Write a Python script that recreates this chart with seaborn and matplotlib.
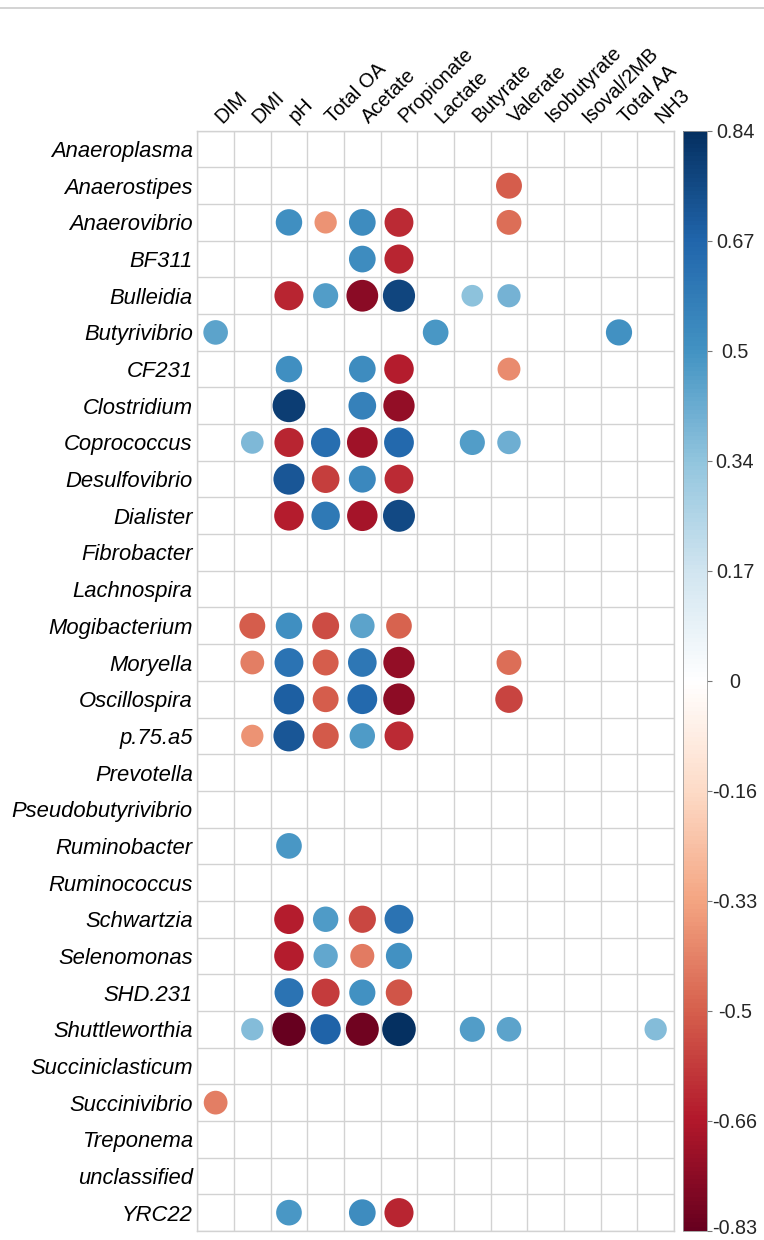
import numpy as np
import pandas as pd
import matplotlib
matplotlib.use("Agg")
import matplotlib.pyplot as plt
from matplotlib.colors import LinearSegmentedColormap, Normalize
from matplotlib.cm import ScalarMappable
from matplotlib.lines import Line2D
from matplotlib.transforms import ScaledTranslation
import seaborn as sns

# Rumen variables (columns) and bacterial genera (rows)
variables = ["DIM", "DMI", "pH", "Total OA", "Acetate", "Propionate", "Lactate",
             "Butyrate", "Valerate", "Isobutyrate", "Isoval/2MB", "Total AA", "NH3"]
genera = ["Anaeroplasma", "Anaerostipes", "Anaerovibrio", "BF311", "Bulleidia",
          "Butyrivibrio", "CF231", "Clostridium", "Coprococcus", "Desulfovibrio",
          "Dialister", "Fibrobacter", "Lachnospira", "Mogibacterium", "Moryella",
          "Oscillospira", "p.75.a5", "Prevotella", "Pseudobutyrivibrio",
          "Ruminobacter", "Ruminococcus", "Schwartzia", "Selenomonas", "SHD.231",
          "Shuttleworthia", "Succiniclasticum", "Succinivibrio", "Treponema",
          "unclassified", "YRC22"]

# Significant correlations only (blank cells are non-significant)
cell_genus = (
    ["Anaerostipes"]
    + ["Anaerovibrio"] * 5
    + ["BF311"] * 2
    + ["Bulleidia"] * 6
    + ["Butyrivibrio"] * 3
    + ["CF231"] * 4
    + ["Clostridium"] * 3
    + ["Coprococcus"] * 7
    + ["Desulfovibrio"] * 4
    + ["Dialister"] * 4
    + ["Mogibacterium"] * 5
    + ["Moryella"] * 6
    + ["Oscillospira"] * 5
    + ["p.75.a5"] * 5
    + ["Ruminobacter"]
    + ["Schwartzia"] * 4
    + ["Selenomonas"] * 4
    + ["SHD.231"] * 4
    + ["Shuttleworthia"] * 8
    + ["Succinivibrio"]
    + ["YRC22"] * 3
)
cell_variable = (
    ["Valerate"]
    + ["pH", "Total OA", "Acetate", "Propionate", "Valerate"]
    + ["Acetate", "Propionate"]
    + ["pH", "Total OA", "Acetate", "Propionate", "Butyrate", "Valerate"]
    + ["DIM", "Lactate", "Total AA"]
    + ["pH", "Acetate", "Propionate", "Valerate"]
    + ["pH", "Acetate", "Propionate"]
    + ["DMI", "pH", "Total OA", "Acetate", "Propionate", "Butyrate", "Valerate"]
    + ["pH", "Total OA", "Acetate", "Propionate"]
    + ["pH", "Total OA", "Acetate", "Propionate"]
    + ["DMI", "pH", "Total OA", "Acetate", "Propionate"]
    + ["DMI", "pH", "Total OA", "Acetate", "Propionate", "Valerate"]
    + ["pH", "Total OA", "Acetate", "Propionate", "Valerate"]
    + ["DMI", "pH", "Total OA", "Acetate", "Propionate"]
    + ["pH"]
    + ["pH", "Total OA", "Acetate", "Propionate"]
    + ["pH", "Total OA", "Acetate", "Propionate"]
    + ["pH", "Total OA", "Acetate", "Propionate"]
    + ["DMI", "pH", "Total OA", "Acetate", "Propionate", "Butyrate", "Valerate", "NH3"]
    + ["DIM"]
    + ["pH", "Acetate", "Propionate"]
)
cell_r = (
    [-0.50]
    + [0.52, -0.37, 0.53, -0.62, -0.46]
    + [0.53, -0.63]
    + [-0.63, 0.47, -0.75, 0.77, 0.35, 0.40]
    + [0.45, 0.49, 0.51]
    + [0.52, 0.53, -0.65, -0.39]
    + [0.80, 0.57, -0.73]
    + [0.38, -0.63, 0.64, -0.70, 0.66, 0.47, 0.41]
    + [0.72, -0.57, 0.54, -0.62]
    + [-0.65, 0.60, -0.69, 0.76]
    + [-0.50, 0.52, -0.54, 0.45, -0.49]
    + [-0.42, 0.62, -0.50, 0.61, -0.73, -0.46]
    + [0.69, -0.50, 0.66, -0.74, -0.56]
    + [-0.37, 0.72, -0.51, 0.48, -0.62]
    + [0.49]
    + [-0.65, 0.48, -0.55, 0.62]
    + [-0.65, 0.44, -0.43, 0.51]
    + [0.62, -0.58, 0.51, -0.52]
    + [0.37, -0.83, 0.68, -0.81, 0.84, 0.47, 0.45, 0.37]
    + [-0.42]
    + [0.49, 0.53, -0.63]
)

# Colour scale limits and legend labels
r_min, r_max = -0.83, 0.84
scale_labels = ["-0.83", "-0.66", "-0.5", "-0.33", "-0.16", "0",
                "0.17", "0.34", "0.5", "0.67", "0.84"]
rdbu_colors = ["#67001F", "#B2182B", "#D6604D", "#F4A582", "#FDDBC7", "#FFFFFF",
               "#D1E5F0", "#92C5DE", "#4393C3", "#2166AC", "#053061"]

sns.set_theme(style="white")
plt.rcParams["font.family"] = ["Liberation Sans", "DejaVu Sans"]

df = pd.DataFrame({"genus": cell_genus, "variable": cell_variable, "r": cell_r})
df["col"] = df["variable"].map({v: i for i, v in enumerate(variables)})
df["row"] = df["genus"].map({g: i for i, g in enumerate(genera)})
df["abs_r"] = df["r"].abs()

W, H, DPI = 764, 1240, 100
fig = plt.figure(figsize=(W / DPI, H / DPI), dpi=DPI)
fig.patch.set_facecolor("white")

gx0, gx1, gy0, gy1 = 197.3, 674.0, 130.7, 1231.0
ax = fig.add_axes([gx0 / W, 1 - gy1 / H, (gx1 - gx0) / W, (gy1 - gy0) / H])
cell_pt = (gx1 - gx0) / len(variables) * 72 / DPI

cmap = LinearSegmentedColormap.from_list("corr_rdbu", rdbu_colors, N=256)
norm = Normalize(r_min, r_max)

# circle area proportional to |r|, colour by r
sns.scatterplot(data=df, x="col", y="row", hue="r", palette=cmap,
                hue_norm=(r_min, r_max), size="abs_r", sizes=(0, cell_pt ** 2),
                size_norm=(0, 1), linewidth=0, legend=False, ax=ax, zorder=3)

ax.set_xlim(-0.5, len(variables) - 0.5)
ax.set_ylim(len(genera) - 0.5, -0.5)
grid_color = "#d2d2d2"
ax.set_xticks(np.arange(-0.5, len(variables), 1), minor=True)
ax.set_yticks(np.arange(-0.5, len(genera), 1), minor=True)
ax.grid(which="minor", color=grid_color, linewidth=1.0)
ax.grid(which="major", visible=False)
for sp in ax.spines.values():
    sp.set_color(grid_color)
    sp.set_linewidth(1.0)

ax.set_xlabel("")
ax.set_ylabel("")
ax.xaxis.tick_top()
ax.set_xticks(range(len(variables)))
ax.set_xticklabels(variables, rotation=45, ha="left", va="baseline",
                   rotation_mode="anchor", fontsize=14.3, color="black")
ax.set_yticks(range(len(genera)))
ax.set_yticklabels(genera, fontstyle="italic", fontsize=15.8, color="black")
ax.tick_params(axis="both", which="both", length=0)
ax.tick_params(axis="x", pad=3)
ax.tick_params(axis="y", pad=3.3)
# nudge the slanted column labels right so each starts at its column centre
col_shift = ScaledTranslation(7 / DPI, 3 / DPI, fig.dpi_scale_trans)
for lab in ax.get_xticklabels(which="major"):
    lab.set_transform(lab.get_transform() + col_shift)

# colour legend
cax = fig.add_axes([682.7 / W, 1 - gy1 / H, 24 / W, (gy1 - gy0) / H])
sm = ScalarMappable(norm=norm, cmap=cmap)
cb = fig.colorbar(sm, cax=cax)
cb.outline.set_edgecolor("#9a9a9a")
cb.outline.set_linewidth(0.6)
cb.set_ticks(np.linspace(r_min, r_max, len(scale_labels)))
cb.set_ticklabels(scale_labels)
cax.tick_params(axis="y", length=3.6, width=0.8, color="#777777",
                labelsize=14.2, pad=16.8)
cb_labels = cax.get_yticklabels()
for lab in cb_labels:
    lab.set_horizontalalignment("center")
# keep the lowest legend label inside the canvas
cb_labels[0].set_transform(cb_labels[0].get_transform()
                           + ScaledTranslation(0, 4 / DPI, fig.dpi_scale_trans))

# thin rule along the top edge
fig.add_artist(Line2D([0, 1], [1 - 8 / H, 1 - 8 / H], transform=fig.transFigure,
                      color="#cccccc", linewidth=1.2))

fig.savefig("out.png", dpi=DPI, facecolor="white")
